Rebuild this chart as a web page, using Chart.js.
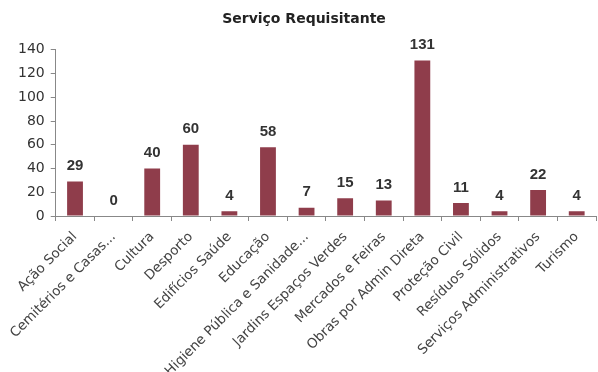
<!DOCTYPE html>
<html>
<head>
<meta charset="utf-8">
<script src="https://cdn.jsdelivr.net/npm/chart.js@4/dist/chart.umd.min.js"></script>
<style>
  html, body { margin: 0; padding: 0; background: #fff; }
  #wrap { width: 598px; height: 372px; position: relative; }
</style>
</head>
<body>
<div id="wrap"><canvas id="c" width="598" height="372"></canvas></div>
<script>
const categories = [
  'Ação Social', 'Cemitérios e Casas...', 'Cultura', 'Desporto', 'Edifícios Saúde',
  'Educação', 'Higiene Pública e Sanidade...', 'Jardins Espaços Verdes', 'Mercados e Feiras',
  'Obras por Admin Direta', 'Proteção Civil', 'Resíduos Sólidos', 'Serviços Administrativos', 'Turismo'
];
const pedidos = [29, 0, 40, 60, 4, 58, 7, 15, 13, 131, 11, 4, 22, 4];
const yTicks = [0, 20, 40, 60, 80, 100, 120, 140];

// value labels above each bar
const barValues = {
  id: 'barValues',
  afterDatasetsDraw(chart) {
    const ctx = chart.ctx;
    const meta = chart.getDatasetMeta(0);
    ctx.save();
    ctx.font = 'bold 15px "Liberation Sans Narrow", "Liberation Sans", sans-serif';
    ctx.fillStyle = '#333';
    ctx.textAlign = 'center';
    ctx.textBaseline = 'bottom';
    meta.data.forEach((bar, i) => {
      ctx.fillText(String(pedidos[i]), bar.x, bar.y - 8);
    });
    ctx.restore();
  }
};

new Chart(document.getElementById('c'), {
  type: 'bar',
  data: {
    labels: categories,
    datasets: [{
      data: pedidos,
      backgroundColor: '#8f3d4b',
      categoryPercentage: 1,
      barPercentage: 0.41
    }]
  },
  options: {
    responsive: false,
    animation: false,
    layout: { padding: { left: 12, right: 2, top: 0, bottom: 0 } },
    plugins: {
      legend: { display: false },
      tooltip: { enabled: false },
      title: {
        display: true,
        text: 'Serviço Requisitante',
        color: '#222',
        font: { family: '"DejaVu Sans", sans-serif', size: 14, weight: 'bold' },
        padding: { top: 11, bottom: 22 }
      }
    },
    scales: {
      x: {
        offset: true,
        grid: { offset: true, drawOnChartArea: false, color: '#888', tickLength: 5 },
        border: { color: '#888' },
        // long rotated labels run down to the bottom edge of the canvas
        afterFit(axis) { axis.height = 156; },
        ticks: {
          autoSkip: false,
          minRotation: 45,
          maxRotation: 45,
          padding: 8,
          color: '#444',
          font: { family: '"DejaVu Sans", sans-serif', size: 13.5 }
        }
      },
      y: {
        min: 0,
        max: 140,
        afterBuildTicks(axis) { axis.ticks = yTicks.map(v => ({ value: v })); },
        grid: { drawOnChartArea: false, color: '#888', tickLength: 5 },
        border: { color: '#888' },
        ticks: {
          padding: 6,
          color: '#333',
          font: { family: '"DejaVu Sans", sans-serif', size: 14 }
        }
      }
    }
  },
  plugins: [barValues]
});
</script>
</body>
</html>
